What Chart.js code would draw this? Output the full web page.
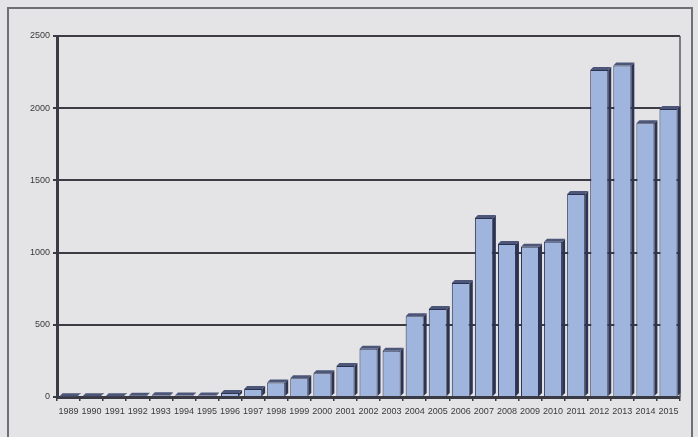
<!DOCTYPE html>
<html>
<head>
<meta charset="utf-8">
<script src="https://cdn.jsdelivr.net/npm/chart.js@4"></script>
<style>
  html, body { margin: 0; padding: 0; background: #e4e4e6; }
  #wrap { position: relative; width: 698px; height: 437px; }
  #frame { position: absolute; left: 7px; top: 7px; width: 686px; height: 440px;
           border: 2px solid #6e6e74; border-bottom: none; box-sizing: border-box; }
  canvas { position: absolute; left: 0; top: 0; }
</style>
</head>
<body>
<div id="wrap">
  <div id="frame"></div>
  <canvas id="chart" width="698" height="437"></canvas>
</div>
<script>
// years on the x axis
const years = ['1989', '1990', '1991', '1992', '1993', '1994', '1995', '1996', '1997',
  '1998', '1999', '2000', '2001', '2002', '2003', '2004', '2005', '2006', '2007',
  '2008', '2009', '2010', '2011', '2012', '2013', '2014', '2015'];

// counts
const counts = [5, 6, 6, 8, 12, 10, 10, 28, 55, 100, 130, 165, 215, 335, 320,
  560, 610, 790, 1240, 1060, 1040, 1075, 1405, 2265, 2295, 1895, 1995];

const yTicks = [0, 500, 1000, 1500, 2000, 2500];

const fontFamily = "'Liberation Sans', Arial, sans-serif";

// fake 3d: dark side + top cap from each bar element
const depthBars = {
  id: 'depthBars',
  afterDatasetsDraw(chart) {
    const ctx = chart.ctx;
    const d = 3;
    chart.getDatasetMeta(0).data.forEach((bar) => {
      const l = bar.x - bar.width / 2;
      const r = bar.x + bar.width / 2;
      ctx.save();
      ctx.fillStyle = '#2c3454';
      ctx.beginPath();
      ctx.moveTo(r, bar.y);
      ctx.lineTo(r + d, bar.y - d);
      ctx.lineTo(r + d, bar.base - d);
      ctx.lineTo(r, bar.base);
      ctx.closePath();
      ctx.fill();
      ctx.fillStyle = '#4c5679';
      ctx.beginPath();
      ctx.moveTo(l, bar.y);
      ctx.lineTo(l + d, bar.y - d);
      ctx.lineTo(r + d, bar.y - d);
      ctx.lineTo(r, bar.y);
      ctx.closePath();
      ctx.fill();
      ctx.restore();
    });
  },
  beforeDatasetsDraw(chart) {
    // right wall of the plot box
    const a = chart.chartArea;
    const ctx = chart.ctx;
    ctx.save();
    ctx.strokeStyle = '#5a5a60';
    ctx.lineWidth = 1.5;
    ctx.beginPath();
    ctx.moveTo(a.right, a.top);
    ctx.lineTo(a.right, a.bottom);
    ctx.stroke();
    ctx.restore();
  }
};

new Chart(document.getElementById('chart').getContext('2d'), {
  type: 'bar',
  data: {
    labels: years,
    datasets: [{
      data: counts,
      backgroundColor: '#9fb5de',
      borderColor: '#2a3050',
      borderWidth: 1,
      barPercentage: 0.78,
      categoryPercentage: 1.0
    }]
  },
  options: {
    responsive: false,
    animation: false,
    layout: { padding: { top: 36, right: 18, bottom: 0, left: 0 } },
    plugins: { legend: { display: false }, tooltip: { enabled: false } },
    scales: {
      x: {
        afterFit(scale) { scale.height = 40; },
        grid: { display: true, drawOnChartArea: false, tickLength: 4, color: '#3a3a44', lineWidth: 1.5 },
        border: { display: true, color: '#3a3a44', width: 3 },
        ticks: { color: '#3a3a3a', font: { family: fontFamily, size: 9 }, padding: 5, maxRotation: 0, autoSkip: false }
      },
      y: {
        min: 0,
        max: 2500,
        afterFit(scale) { scale.width = 57; },
        afterBuildTicks(scale) { scale.ticks = yTicks.map((v) => ({ value: v })); },
        grid: { color: '#3c3c44', lineWidth: 2, tickLength: 4 },
        border: { display: true, color: '#3a3a44', width: 3 },
        ticks: {
          color: '#3a3a3a',
          font: { family: fontFamily, size: 9 },
          padding: 3,
          callback: (v) => String(v)
        }
      }
    }
  },
  plugins: [depthBars]
});
</script>
</body>
</html>
